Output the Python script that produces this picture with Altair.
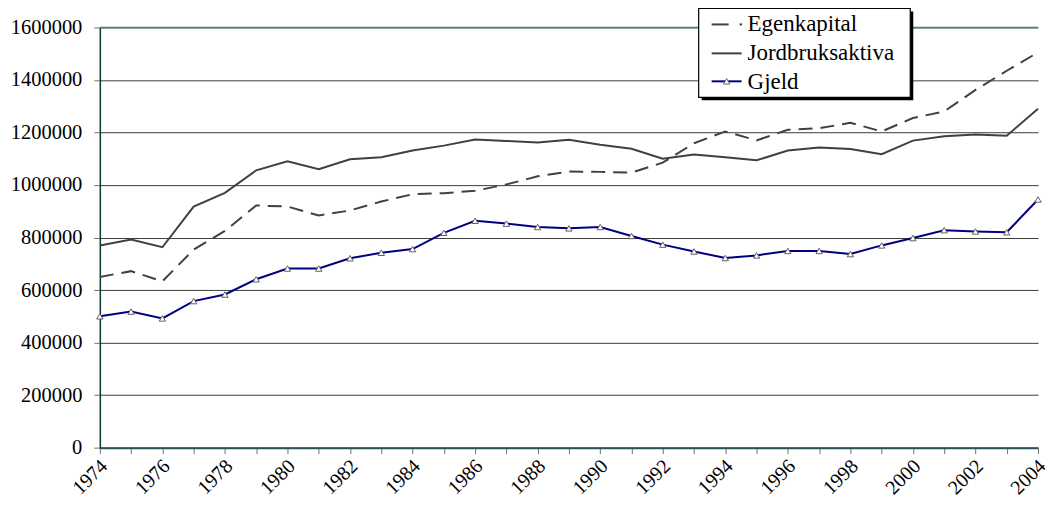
import altair as alt
import pandas as pd

years = list(range(1974, 2005))
egenkapital = [650000, 672000, 633000, 754000, 825000, 922000, 918000, 884000, 903000, 937000,
               965000, 969000, 978000, 1002000, 1033000, 1051000, 1050000, 1047000, 1085000, 1159000,
               1204000, 1170000, 1210000, 1216000, 1237000, 1204000, 1255000, 1280000, 1362000, 1435000,
               1505000]
jordbruksaktiva = [770000, 792000, 763000, 918000, 970000, 1056000, 1090000, 1060000, 1098000, 1106000,
                   1131000, 1150000, 1173000, 1168000, 1162000, 1172000, 1153000, 1138000, 1100000, 1116000,
                   1106000, 1094000, 1131000, 1143000, 1137000, 1117000, 1169000, 1186000, 1192000, 1188000,
                   1290000]
gjeld = [500000, 518000, 492000, 558000, 583000, 641000, 682000, 682000, 721000, 742000,
         756000, 818000, 864000, 853000, 840000, 835000, 840000, 806000, 773000, 747000,
         722000, 732000, 749000, 749000, 737000, 770000, 798000, 828000, 823000, 820000,
         945000]
series_names = ["Egenkapital", "Jordbruksaktiva", "Gjeld"]
y_ticks = [0, 200000, 400000, 600000, 800000, 1000000, 1200000, 1400000, 1600000]

rows = []
for name, vals in zip(series_names, [egenkapital, jordbruksaktiva, gjeld]):
    for yr, v in zip(years, vals):
        rows.append({"year": yr, "value": v, "series": name})
df = pd.DataFrame(rows)

FONT = "Liberation Serif"
W, H = 940, 421

xscale = alt.Scale(domain=[1974, 2004], nice=False, zero=False)
yscale = alt.Scale(domain=[0, 1600000], nice=False)

x_axis = alt.Axis(
    values=years, title=None, grid=False,
    labelExpr="datum.value % 2 == 0 ? datum.value : ''",
    labelAngle=315, labelOverlap=False, labelFont=FONT, labelFontSize=20,
    labelColor="black", labelPadding=2, labelOffset=-3, tickSize=6, tickColor="#707070",
    domainColor="#2a5555", domainWidth=2, labelFlush=False)
y_axis = alt.Axis(
    values=y_ticks, format="d", title=None, grid=True, gridColor="#3c3c3c",
    gridWidth=1, labelFont=FONT, labelFontSize=20.5, labelColor="black",
    labelPadding=12, tickSize=6, tickColor="#707070",
    domainColor="#0a3535", domainWidth=1.5)
x_enc = alt.X("year:Q", scale=xscale, axis=x_axis)
y_enc = alt.Y("value:Q", scale=yscale, axis=y_axis)

base = alt.Chart(df)

top_line = alt.Chart(pd.DataFrame({"value": [1600000]})).mark_rule(
    color="#3a8585", strokeWidth=1.5).encode(y=y_enc)

eg = base.transform_filter(alt.datum.series == "Egenkapital").mark_line(
    color="#404040", strokeWidth=2, strokeDash=[14, 8]).encode(x=x_enc, y=y_enc)
jo = base.transform_filter(alt.datum.series == "Jordbruksaktiva").mark_line(
    color="#404040", strokeWidth=2).encode(x=x_enc, y=y_enc)
gj = base.transform_filter(alt.datum.series == "Gjeld").mark_line(
    color="#000080", strokeWidth=2).encode(x=x_enc, y=y_enc)
gjp = base.transform_filter(alt.datum.series == "Gjeld").mark_point(
    shape="triangle-up", size=40, filled=True, fill="white", stroke="#606060",
    strokeWidth=1, opacity=1).encode(x=x_enc, y=y_enc)

one = pd.DataFrame({"a": [0]})
leg_shadow = alt.Chart(one).mark_rect(color="black").encode(
    x=alt.value(603), x2=alt.value(815), y=alt.value(-16), y2=alt.value(73))
leg_box = alt.Chart(one).mark_rect(fill="white", stroke="black", strokeWidth=1.2).encode(
    x=alt.value(600), x2=alt.value(812), y=alt.value(-19), y2=alt.value(70))
leg_l1 = alt.Chart(one).mark_rule(color="#404040", strokeWidth=2).encode(
    x=alt.value(613), x2=alt.value(630), y=alt.value(-3))
leg_l1dot = alt.Chart(one).mark_rule(color="#404040", strokeWidth=2).encode(
    x=alt.value(641), x2=alt.value(643.5), y=alt.value(-3))
leg_l2 = alt.Chart(one).mark_rule(color="#404040", strokeWidth=2).encode(
    x=alt.value(613), x2=alt.value(643), y=alt.value(26))
leg_l3 = alt.Chart(one).mark_rule(color="#000080", strokeWidth=2).encode(
    x=alt.value(613), x2=alt.value(643), y=alt.value(54))
leg_p3 = alt.Chart(one).mark_point(shape="triangle-up", size=40, filled=True, fill="white",
                                   stroke="#606060", strokeWidth=1, opacity=1).encode(
    x=alt.value(628), y=alt.value(54))
leg_texts = []
for i, name in enumerate(series_names):
    leg_texts.append(alt.Chart(one).mark_text(
        font=FONT, fontSize=23, align="left", baseline="alphabetic", color="black").encode(
        x=alt.value(649), y=alt.value(4 + 29 * i), text=alt.value(name)))

chart = alt.layer(
    jo, eg, gj, gjp, top_line,
    leg_shadow, leg_box, leg_l1, leg_l1dot, leg_l2, leg_l3, leg_p3, *leg_texts
).properties(
    width=W, height=H,
    autosize=alt.AutoSizeParams(type="none"),
    padding={"left": 92, "top": 19, "right": 12, "bottom": 52},
    background="white"
).configure(font=FONT).configure_view(stroke=None)

chart.save("out.html", embed_options={"renderer": "svg", "actions": False})
